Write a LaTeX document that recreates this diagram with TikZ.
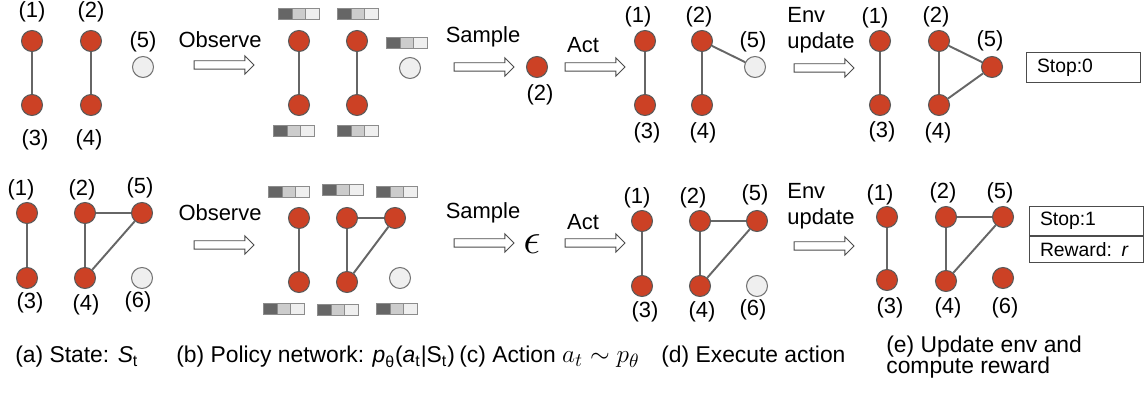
\documentclass[tikz,border=0pt]{standalone}
\usepackage{fontspec}
\setmainfont{Liberation Sans}
\usepackage{xcolor}
\usepackage{tikz}
\usetikzlibrary{shapes.arrows, positioning}

\definecolor{nodered}{HTML}{CC4125}
\definecolor{nodegray}{HTML}{EFEFEF}
\definecolor{bardark}{HTML}{666666}
\definecolor{barmid}{HTML}{CCCCCC}
\definecolor{barlight}{HTML}{EFEFEF}

\tikzset{
  agent/.style={circle, draw=black!65, fill=nodered, minimum size=0.42cm, inner sep=0pt, line width=0.6pt},
  freenode/.style={agent, draw=black!55, fill=nodegray},
  link/.style={draw=black!60, line width=1.1pt},
  lbl/.style={inner sep=0pt, font=\fontsize{12.5}{15}\selectfont},
  stepper/.style={single arrow, draw=black!70, fill=white, line width=0.5pt, inner sep=0pt,
    text height=0.15cm, text depth=0pt, minimum height=1.2cm, single arrow head extend=0.1cm},
  statusbox/.style={draw=black!70, line width=0.5pt, text width=1.84cm, inner xsep=0.22cm,
    minimum height=0.47cm, align=left, font=\fontsize{11}{13}\selectfont},
  caption/.style={anchor=west, inner sep=0pt, align=left, font=\fontsize{13}{12.4}\selectfont}
}

% feature bar with three cells, centred at #1
\newcommand{\featbar}[1]{%
  \begin{scope}[shift={(#1)}]
    \fill[bardark] (-20.5,-5.5) rectangle (-6.8,5.5);
    \fill[barmid] (-6.8,-5.5) rectangle (6.8,5.5);
    \fill[barlight] (6.8,-5.5) rectangle (20.5,5.5);
    \draw[black!45, line width=0.4pt] (-20.5,-5.5) rectangle (20.5,5.5)
      (-6.8,-5.5) -- (-6.8,5.5) (6.8,-5.5) -- (6.8,5.5);
  \end{scope}}

\begin{document}
\begin{tikzpicture}[x=0.02cm, y=-0.02cm]
\useasboundingbox (0,0) rectangle (1145,394);

%% ---------- Row 1 ----------
% (a) state
\node[agent] (a1) at (32,41) {};
\node[agent] (a3) at (32,105) {};
\node[agent] (a2) at (91,41) {};
\node[agent] (a4) at (91,105) {};
\node[freenode] (a5) at (143,67) {};
\draw[link] (a1) -- (a3);
\draw[link] (a2) -- (a4);
\node[lbl] (a1l) at (32,12) {(1)};
\node[lbl] (a2l) at (91,12) {(2)};
\node[lbl] (a5l) at (143,42) {(5)};
\node[lbl] (a3l) at (35,140) {(3)};
\node[lbl] (a4l) at (89,140) {(4)};

% observe
\node[lbl] (obs1) at (220,40) {Observe};
\node[stepper] (obs1arr) at (222,65) {};

% (b) policy network
\node[agent] (p1) at (299,41) {};
\node[agent] (p3) at (299,105) {};
\node[agent] (p2) at (357,41) {};
\node[agent] (p4) at (357,105) {};
\node[freenode] (p5) at (410,68) {};
\draw[link] (p1) -- (p3);
\draw[link] (p2) -- (p4);
\featbar{299,14}
\featbar{358,14}
\featbar{407,43}
\featbar{294,131}
\featbar{358,131}

% sample
\node[lbl] (smp1) at (483,37) {Sample};
\node[stepper] (smp1arr) at (482,67) {};
\node[agent] (s2) at (537,67) {};
\node[lbl] (s2l) at (540,95) {(2)};

% act
\node[lbl] (act1) at (583,45) {Act};
\node[stepper] (act1arr) at (593,67) {};

% (d) execute
\node[agent] (d1) at (645,41) {};
\node[agent] (d3) at (645,105) {};
\node[agent] (d2) at (702,41) {};
\node[agent] (d4) at (702,105) {};
\node[freenode] (d5) at (755,67) {};
\draw[link] (d1) -- (d3);
\draw[link] (d2) -- (d4);
\draw[link] (d2) -- (d5);
\node[lbl] (d1l) at (638,17) {(1)};
\node[lbl] (d2l) at (699,17) {(2)};
\node[lbl] (d5l) at (753,42) {(5)};
\node[lbl] (d3l) at (647,133) {(3)};
\node[lbl] (d4l) at (703,133) {(4)};

% env update
\node[lbl, anchor=west, align=left, font=\fontsize{12.5}{14.8}\selectfont] (env1) at (787,30) {Env\\update};
\node[stepper] (env1arr) at (822,68) {};

% (e) update env
\node[agent] (e1) at (880,41) {};
\node[agent] (e3) at (880,105) {};
\node[agent] (e2) at (939,41) {};
\node[agent] (e4) at (939,105) {};
\node[agent] (e5) at (992,67) {};
\draw[link] (e1) -- (e3);
\draw[link] (e2) -- (e4);
\draw[link] (e2) -- (e5);
\draw[link] (e4) -- (e5);
\node[lbl] (e1l) at (875,18) {(1)};
\node[lbl] (e2l) at (936,17) {(2)};
\node[lbl] (e5l) at (990,41) {(5)};
\node[lbl] (e3l) at (882,132) {(3)};
\node[lbl] (e4l) at (938,133) {(4)};
\node[statusbox] (stop0) at (1083,67.5) {Stop:0};

%% ---------- Row 2 ----------
% (a) state
\node[agent] (A1) at (27,213) {};
\node[agent] (A3) at (27,278) {};
\node[agent] (A2) at (85,213) {};
\node[agent] (A4) at (85,278) {};
\node[agent] (A5) at (142,213) {};
\node[freenode] (A6) at (142,278) {};
\draw[link] (A1) -- (A3);
\draw[link] (A2) -- (A4);
\draw[link] (A2) -- (A5);
\draw[link] (A4) -- (A5);
\node[lbl] (A1l) at (21,190) {(1)};
\node[lbl] (A2l) at (82,190) {(2)};
\node[lbl] (A5l) at (140,188) {(5)};
\node[lbl] (A3l) at (30,303) {(3)};
\node[lbl] (A4l) at (86,305) {(4)};
\node[lbl] (A6l) at (138,302) {(6)};

% observe
\node[lbl] (obs2) at (220,213) {Observe};
\node[stepper] (obs2arr) at (222,245) {};

% (b) policy network
\node[agent] (P1) at (299,218) {};
\node[agent] (P3) at (299,282) {};
\node[agent] (P2) at (347,218) {};
\node[agent] (P4) at (347,282) {};
\node[agent] (P5) at (395,218) {};
\node[freenode] (P6) at (400,278) {};
\draw[link] (P1) -- (P3);
\draw[link] (P2) -- (P4);
\draw[link] (P2) -- (P5);
\draw[link] (P4) -- (P5);
\featbar{289,192}
\featbar{343,190}
\featbar{397,192}
\featbar{284,309}
\featbar{338,310}
\featbar{397,309}

% sample
\node[lbl] (smp2) at (483,213) {Sample};
\node[stepper] (smp2arr) at (482,243) {};
\node[inner sep=0pt, font=\fontsize{27}{27}\selectfont] (eps) at (532,244) {$\epsilon$};

% act
\node[lbl] (act2) at (583,222) {Act};
\node[stepper] (act2arr) at (593,243) {};

% (d) execute
\node[agent] (D1) at (642,221) {};
\node[agent] (D3) at (642,286) {};
\node[agent] (D2) at (700,221) {};
\node[agent] (D4) at (700,286) {};
\node[agent] (D5) at (757,221) {};
\node[freenode] (D6) at (757,286) {};
\draw[link] (D1) -- (D3);
\draw[link] (D2) -- (D4);
\draw[link] (D2) -- (D5);
\draw[link] (D4) -- (D5);
\node[lbl] (D1l) at (637,198) {(1)};
\node[lbl] (D2l) at (693,198) {(2)};
\node[lbl] (D5l) at (755,195) {(5)};
\node[lbl] (D3l) at (645,312) {(3)};
\node[lbl] (D4l) at (702,312) {(4)};
\node[lbl] (D6l) at (753,310) {(6)};

% env update
\node[lbl, anchor=west, align=left, font=\fontsize{12.5}{14.8}\selectfont] (env2) at (787,206) {Env\\update};
\node[stepper] (env2arr) at (822,246) {};

% (e) update env
\node[agent] (E1) at (887,217) {};
\node[agent] (E3) at (887,280) {};
\node[agent] (E2) at (946,217) {};
\node[agent] (E4) at (946,281) {};
\node[agent] (E5) at (1003,217) {};
\node[agent] (E6) at (1003,278) {};
\draw[link] (E1) -- (E3);
\draw[link] (E2) -- (E4);
\draw[link] (E2) -- (E5);
\draw[link] (E4) -- (E5);
\node[lbl] (E1l) at (880,195) {(1)};
\node[lbl] (E2l) at (943,193) {(2)};
\node[lbl] (E5l) at (1000,193) {(5)};
\node[lbl] (E3l) at (890,308) {(3)};
\node[lbl] (E4l) at (948,308) {(4)};
\node[lbl] (E6l) at (1005,308) {(6)};
\node[statusbox] (stop1) at (1086,221) {Stop:1};
\node[statusbox, below=0pt of stop1] (reward) {Reward: \textit{r}};

%% ---------- Captions ----------
\node[caption] (capa) at (15,357) {(a) State: \textit{S}\textsubscript{t}};
\node[caption] (capb) at (176,357) {(b) Policy network: \textit{p}\textsubscript{θ}(\textit{a}\textsubscript{t}|S\textsubscript{t})};
\node[caption] (capc) at (459,357) {(c) Action {\fontsize{15.5}{15}\selectfont$a_t \sim p_\theta$}};
\node[caption] (capd) at (661,357) {(d) Execute action};
\node[caption] (cape) at (886,357) {(e) Update env and\\compute reward};
\end{tikzpicture}
\end{document}
